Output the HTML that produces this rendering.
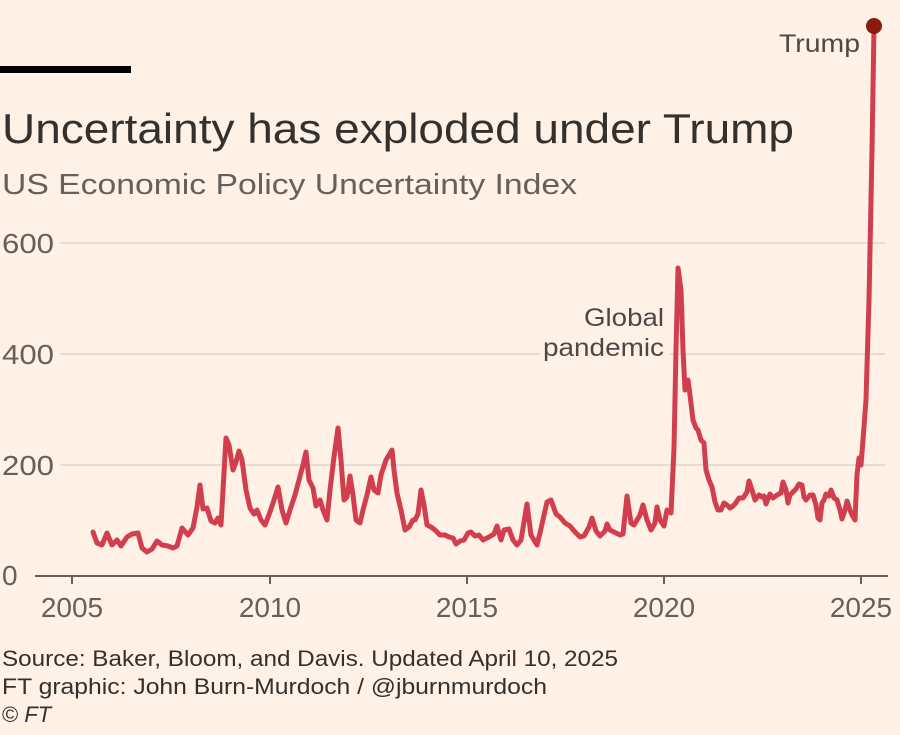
<!DOCTYPE html>
<html><head><style>
body{margin:0;background:#fff1e5;}
svg{display:block;font-family:"Liberation Sans",sans-serif;}
</style></head><body>
<svg width="900" height="735" viewBox="0 0 900 735">
<rect width="900" height="735" fill="#fff1e5"/>
<rect x="0" y="66" width="131" height="7" fill="#000"/>
<text x="2" y="143" font-size="42" fill="#33302e" textLength="792" lengthAdjust="spacingAndGlyphs">Uncertainty has exploded under Trump</text>
<text x="2" y="194" font-size="29" fill="#66605c" textLength="575" lengthAdjust="spacingAndGlyphs">US Economic Policy Uncertainty Index</text>
<g stroke="#e0d5cb" stroke-width="1.5">
<line x1="60" y1="243" x2="885" y2="243"/><line x1="60" y1="354" x2="885" y2="354"/><line x1="60" y1="465" x2="885" y2="465"/>
</g>
<g font-size="28" fill="#66605c">
<text x="2" y="253" textLength="52" lengthAdjust="spacingAndGlyphs">600</text><text x="2" y="364" textLength="52" lengthAdjust="spacingAndGlyphs">400</text><text x="2" y="475" textLength="52" lengthAdjust="spacingAndGlyphs">200</text><text x="2" y="585">0</text>
</g>
<rect x="540" y="300" width="130" height="62" fill="#fff1e5"/>
<text x="664" y="326" font-size="25" fill="#4d4845" text-anchor="end" textLength="80" lengthAdjust="spacingAndGlyphs">Global</text>
<text x="664" y="356" font-size="25" fill="#4d4845" text-anchor="end" textLength="121" lengthAdjust="spacingAndGlyphs">pandemic</text>
<line x1="35" y1="576" x2="888" y2="576" stroke="#66605c" stroke-width="2"/>
<g stroke="#66605c" stroke-width="2">
<line x1="72" y1="576" x2="72" y2="584"/><line x1="270" y1="576" x2="270" y2="584"/><line x1="467" y1="576" x2="467" y2="584"/><line x1="664" y1="576" x2="664" y2="584"/><line x1="861" y1="576" x2="861" y2="584"/>
</g>
<g font-size="28" fill="#66605c" text-anchor="middle">
<text x="72" y="617">2005</text><text x="270" y="617">2010</text><text x="467" y="617">2015</text><text x="664" y="617">2020</text><text x="861" y="617">2025</text>
</g>
<polyline fill="none" stroke="#d13f4e" stroke-width="5" stroke-linejoin="round" stroke-linecap="round" points="93,532 97,543 102,545 107,533 112,545 117,540 121,546 127,537 132,534 138,533 142,548 147,552 152,549 157,541 162,545 168,546 173,548 177,546 182,528 188,535 193,528 197,507 200,485 203,509 207,508 211,521 215,523 218,518 221,525 226,438 229,445 233,470 236,462 239,451 242,460 246,490 250,508 254,514 257,510 261,520 265,525 270,512 274,500 278,487 282,510 286,523 290,510 295,495 299,480 303,465 306,452 309,480 313,488 316,506 320,500 323,510 327,520 330,490 334,457 338,428 341,460 344,500 347,497 350,476 353,495 356,520 360,523 363,510 367,495 371,477 374,490 378,493 381,475 386,460 392,450 394,470 397,493 401,510 405,530 409,527 413,520 415,520 418,514 421,490 424,505 427,525 431,527 435,530 440,535 445,535 449,537 453,538 456,544 460,541 464,540 468,533 471,532 475,536 479,535 483,540 489,537 494,534 497,526 501,540 504,530 509,529 513,540 517,545 521,540 527,504 531,535 537,545 540,533 547,502 551,500 556,514 560,517 565,523 570,526 575,532 580,537 584,536 589,527 592,518 596,531 600,536 605,531 607,524 610,530 614,532 620,535 623,534 627,496 631,523 634,525 640,515 643,505 647,520 651,530 655,523 657,507 660,520 664,526 667,510 671,513 674,448 676,350 678,268 681,290 683,350 685,390 688,380 690,395 693,420 696,428 698,430 701,440 704,443 706,470 709,480 712,487 715,502 718,510 721,510 724,503 727,505 730,508 733,506 735,504 739,498 743,498 747,492 749,481 752,490 755,500 759,495 762,497 764,496 766,504 770,494 773,498 777,495 781,493 783,482 786,490 788,503 790,495 796,489 799,484 802,485 804,497 806,500 810,495 813,495 816,505 818,518 820,520 822,503 824,500 826,494 829,496 831,490 834,498 837,500 840,510 842,519 845,510 847,501 850,510 852,515 855,520 857,475 859,458 861,465 863,440 866,400 869,300 872,150 874,27"/>
<circle cx="874" cy="26" r="8" fill="#8b1a10"/>
<text x="860" y="52" font-size="25" fill="#4d4845" text-anchor="end" textLength="81" lengthAdjust="spacingAndGlyphs">Trump</text>
<g font-size="22" fill="#33302e">
<text x="2" y="666" textLength="616" lengthAdjust="spacingAndGlyphs">Source: Baker, Bloom, and Davis. Updated April 10, 2025</text>
<text x="2" y="694" textLength="545" lengthAdjust="spacingAndGlyphs">FT graphic: John Burn-Murdoch / @jburnmurdoch</text>
<text x="2" y="722">© <tspan font-style="italic">FT</tspan></text>
</g>
</svg>
</body></html>
